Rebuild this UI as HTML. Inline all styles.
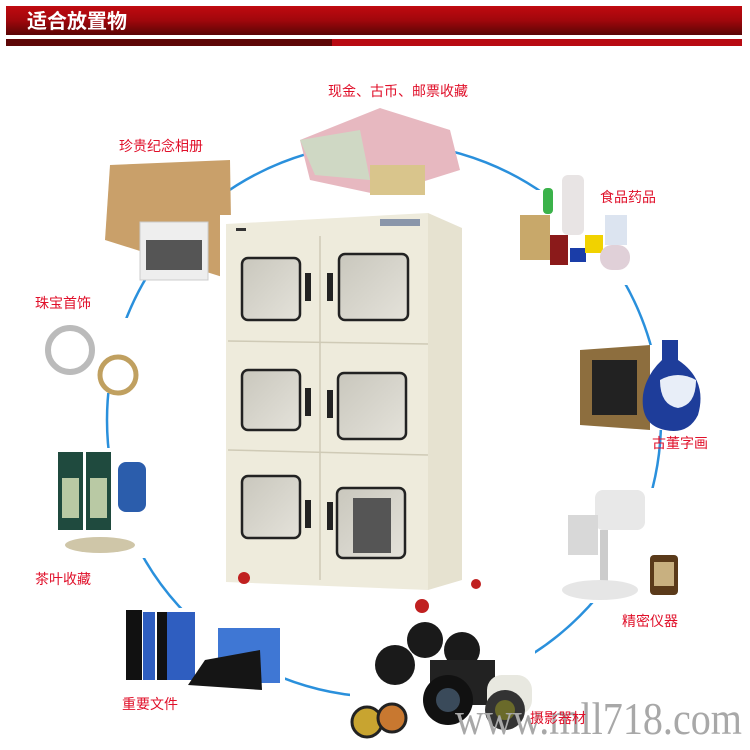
<!DOCTYPE html>
<html><head><meta charset="utf-8"><style>
html,body{margin:0;padding:0;background:#fff;}
svg{display:block}
.l{font-family:"Liberation Sans","Noto Sans CJK SC",sans-serif;font-size:14px;fill:#e0102a;}
</style></head><body>
<svg width="750" height="750" viewBox="0 0 750 750" xmlns="http://www.w3.org/2000/svg">
<defs>
<linearGradient id="hd" x1="0" y1="0" x2="0" y2="1"><stop offset="0" stop-color="#c00a10"/><stop offset="0.5" stop-color="#a0070c"/><stop offset="1" stop-color="#5a0505"/></linearGradient>
<linearGradient id="gl" x1="0" y1="0" x2="1" y2="1"><stop offset="0" stop-color="#c9c7bd"/><stop offset="1" stop-color="#e4e2da"/></linearGradient>
</defs>
<rect x="6" y="6" width="736" height="29" fill="url(#hd)"/>
<text x="27" y="28" font-family="Liberation Sans,'Noto Sans CJK SC',sans-serif" font-size="20" font-weight="bold" fill="#fff">适合放置物</text>
<rect x="6" y="39" width="326" height="7" fill="#5e0707"/>
<rect x="332" y="39" width="410" height="7" fill="#b80a12"/>
<circle cx="384" cy="420" r="277" fill="none" stroke="#2a90dc" stroke-width="2.5"/>
<g>
<polygon points="300,140 380,108 450,130 460,170 380,195 310,180" fill="#e7b8c0"/>
<polygon points="300,140 360,130 370,180 315,175" fill="#cfd8c4"/>
<rect x="370" y="165" width="55" height="30" fill="#d9c58c"/>
<polygon points="110,165 230,160 232,280 105,240" fill="#c9a06a"/>
<rect x="140" y="222" width="68" height="58" fill="#eee" stroke="#ccc"/>
<rect x="146" y="240" width="56" height="30" fill="#555"/>
<rect x="516" y="190" width="125" height="95" fill="#fff"/>
<rect x="520" y="215" width="30" height="45" fill="#c8a86a"/>
<rect x="543" y="188" width="10" height="26" rx="4" fill="#3bb24a"/>
<rect x="562" y="175" width="22" height="60" rx="6" fill="#e8e4e4"/>
<rect x="550" y="235" width="18" height="30" fill="#8b1a1a"/>
<rect x="570" y="248" width="16" height="14" fill="#1a3da8"/>
<rect x="585" y="235" width="18" height="18" fill="#f1d200"/>
<rect x="605" y="215" width="22" height="30" fill="#dce4f0"/>
<rect x="600" y="245" width="30" height="25" rx="12" fill="#e0d0d8"/>
<rect x="44" y="318" width="100" height="75" fill="#fff"/>
<circle cx="70" cy="350" r="22" fill="none" stroke="#bbb" stroke-width="6"/>
<circle cx="118" cy="375" r="18" fill="none" stroke="#c0a060" stroke-width="5"/>
<rect x="578" y="345" width="130" height="85" fill="#fff"/>
<polygon points="580,350 650,345 650,430 580,425" fill="#8d6e3e"/>
<rect x="592" y="360" width="45" height="55" fill="#222"/>
<path d="M662,340 h16 v20 q30,20 20,55 q-10,20 -33,15 q-25,-5 -22,-35 q3,-20 19,-35z" fill="#1e3d9a"/>
<path d="M660,380 q18,-10 36,0 q0,25 -18,28 q-18,-3 -18,-28z" fill="#e8eef8"/>
<rect x="50" y="448" width="100" height="110" fill="#fff"/>
<rect x="58" y="452" width="25" height="78" fill="#1f4a3e"/>
<rect x="86" y="452" width="25" height="78" fill="#1f4a3e"/>
<rect x="62" y="478" width="17" height="40" fill="#b9c9a4"/>
<rect x="90" y="478" width="17" height="40" fill="#b9c9a4"/>
<rect x="118" y="462" width="28" height="50" rx="8" fill="#2b5dac"/>
<ellipse cx="100" cy="545" rx="35" ry="8" fill="#cfc6a8"/>
<rect x="558" y="488" width="120" height="115" fill="#fff"/>
<rect x="595" y="490" width="50" height="40" rx="8" fill="#e8e8e8"/>
<rect x="568" y="515" width="30" height="40" fill="#d8d8d8"/>
<rect x="600" y="530" width="8" height="55" fill="#ccc"/>
<ellipse cx="600" cy="590" rx="38" ry="10" fill="#e6e6e6"/>
<rect x="650" y="555" width="28" height="40" rx="4" fill="#5a3a1a"/>
<rect x="654" y="562" width="20" height="24" fill="#c8b080"/>
<rect x="120" y="608" width="165" height="78" fill="#fff"/>
<rect x="126" y="610" width="16" height="70" fill="#111"/>
<rect x="143" y="612" width="12" height="68" fill="#2f5ec0"/>
<rect x="157" y="612" width="10" height="68" fill="#111"/>
<rect x="167" y="612" width="28" height="68" fill="#2f5ec0"/>
<rect x="218" y="628" width="62" height="55" fill="#3f77d4"/>
<polygon points="205,660 260,650 262,690 188,685" fill="#151515"/>
<rect x="350" y="615" width="185" height="120" fill="#fff"/>
<circle cx="425" cy="640" r="18" fill="#1a1a1a"/>
<circle cx="395" cy="665" r="20" fill="#1a1a1a"/>
<circle cx="462" cy="650" r="18" fill="#1a1a1a"/>
<rect x="430" y="660" width="65" height="45" fill="#222"/>
<circle cx="448" cy="700" r="25" fill="#111"/>
<circle cx="448" cy="700" r="12" fill="#3a4a5a"/>
<rect x="487" y="675" width="45" height="40" rx="15" fill="#e8e8e0"/>
<circle cx="505" cy="710" r="20" fill="#333"/>
<circle cx="505" cy="710" r="10" fill="#6a6a2a"/>
<circle cx="367" cy="722" r="15" fill="#c8a430" stroke="#222" stroke-width="3"/>
<circle cx="392" cy="718" r="14" fill="#c87830" stroke="#222" stroke-width="3"/>
</g>
<rect x="220" y="215" width="245" height="400" fill="#fff"/>
<polygon points="428,213 462,228 462,580 428,590" fill="#e6e2d0"/>
<polygon points="226,224 428,213 428,590 226,582" fill="#eeebdc"/>
<rect x="380" y="219" width="40" height="7" fill="#8a96aa"/>
<rect x="236" y="228" width="10" height="3" fill="#333"/>
<g stroke="#cfcab6" stroke-width="1.5" fill="none">
<line x1="228" y1="341" x2="428" y2="344"/><line x1="228" y1="450" x2="428" y2="455"/>
<line x1="320" y1="236" x2="320" y2="580"/>
</g>
<g fill="url(#gl)" stroke="#222" stroke-width="2.5">
<rect x="242" y="258" width="58" height="62" rx="6"/>
<rect x="339" y="254" width="69" height="66" rx="6"/>
<rect x="242" y="370" width="58" height="60" rx="6"/>
<rect x="338" y="373" width="68" height="66" rx="6"/>
<rect x="242" y="476" width="58" height="62" rx="6"/>
<rect x="337" y="488" width="68" height="70" rx="6"/>
</g>
<rect x="353" y="498" width="38" height="55" fill="#555"/>
<g fill="#222">
<rect x="305" y="273" width="6" height="28"/><rect x="327" y="273" width="6" height="28"/>
<rect x="305" y="388" width="6" height="28"/><rect x="327" y="390" width="6" height="28"/>
<rect x="305" y="500" width="6" height="28"/><rect x="327" y="502" width="6" height="28"/>
</g>
<circle cx="244" cy="578" r="6" fill="#c02020"/>
<circle cx="422" cy="606" r="7" fill="#c02020"/>
<circle cx="476" cy="584" r="5" fill="#c02020"/>
<text class="l" x="328" y="96">现金、古币、邮票收藏</text>
<text class="l" x="119" y="151">珍贵纪念相册</text>
<text class="l" x="600" y="202">食品药品</text>
<text class="l" x="35" y="308">珠宝首饰</text>
<text class="l" x="652" y="448">古董字画</text>
<text class="l" x="35" y="584">茶叶收藏</text>
<text class="l" x="622" y="626">精密仪器</text>
<text class="l" x="122" y="709">重要文件</text>
<text x="455" y="734" font-family="Liberation Serif,serif" font-size="46" fill="#a8a8a8" textLength="287" lengthAdjust="spacingAndGlyphs">www.mll718.com</text>
<text class="l" x="530" y="723">摄影器材</text>
</svg>
</body></html>
